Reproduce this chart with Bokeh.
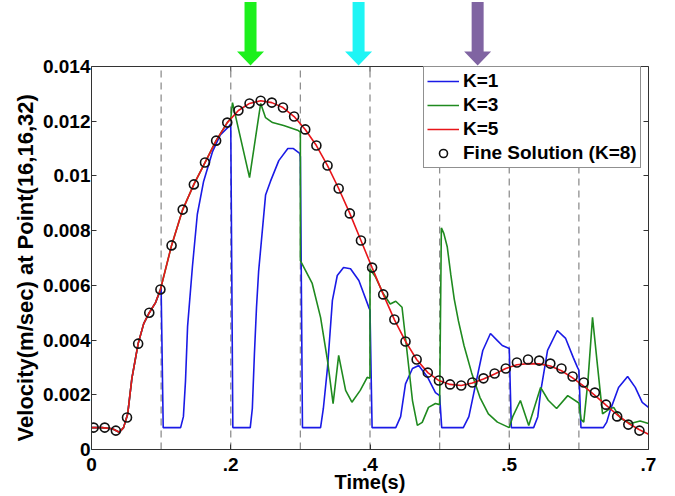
from bokeh.plotting import figure
from bokeh.models import (Range1d, LinearAxis, FixedTicker, Span, Legend, LegendItem,
                          ColumnDataSource)
from bokeh.embed import file_html
from bokeh.resources import INLINE

# ---------------- data ----------------
x_ticks = [0.0, 0.2, 0.4, 0.6, 0.8]
x_tick_labels = ["0", ".2", ".4", ".5", ".7"]
y_ticks = [0.0, 0.002, 0.004, 0.006, 0.008, 0.01, 0.012, 0.014]
y_tick_labels = ["0", "0.002", "0.004", "0.006", "0.008", "0.01", "0.012", "0.014"]
window_edges = [0.1, 0.2, 0.3, 0.4, 0.5, 0.6, 0.7]

fine_x = [0.003, 0.019, 0.035, 0.051, 0.067, 0.083, 0.099, 0.115, 0.131, 0.147,
          0.163, 0.179, 0.195, 0.211, 0.227, 0.243, 0.259, 0.275, 0.291, 0.307,
          0.323, 0.339, 0.355, 0.371, 0.387, 0.403, 0.419, 0.435, 0.451, 0.467,
          0.483, 0.499, 0.515, 0.531, 0.547, 0.563, 0.579, 0.595, 0.611, 0.627,
          0.643, 0.659, 0.675, 0.691, 0.707, 0.723, 0.739, 0.755, 0.771, 0.787]
fine_y = [0.00080, 0.00080, 0.00069, 0.00117, 0.00387, 0.00500, 0.00585, 0.00746, 0.00877, 0.00969,
          0.01049, 0.01129, 0.01195, 0.01239, 0.01265, 0.01275, 0.01268, 0.01250, 0.01217, 0.01170,
          0.01111, 0.01038, 0.00954, 0.00863, 0.00764, 0.00665, 0.00567, 0.00475, 0.00395, 0.00329,
          0.00281, 0.00252, 0.00238, 0.00234, 0.00245, 0.00260, 0.00278, 0.00296, 0.00318, 0.00329,
          0.00325, 0.00314, 0.00296, 0.00267, 0.00245, 0.00208, 0.00164, 0.00121, 0.00091, 0.00069]

k5_x = [0.000, 0.015, 0.030, 0.040, 0.046, 0.052, 0.058, 0.067, 0.075, 0.083, 0.092, 0.099,
        0.115, 0.131, 0.147, 0.163, 0.179, 0.195, 0.211, 0.227, 0.243, 0.259, 0.275, 0.291,
        0.307, 0.323, 0.339, 0.355, 0.371, 0.387, 0.403, 0.419, 0.435, 0.451, 0.467, 0.483,
        0.499, 0.515, 0.531, 0.547, 0.563, 0.579, 0.595, 0.611, 0.627, 0.643, 0.659, 0.675,
        0.691, 0.707, 0.723, 0.739, 0.755, 0.771, 0.787, 0.800]
k5_y = [0.00080, 0.00080, 0.00076, 0.00063, 0.00080, 0.00130, 0.00260, 0.00387, 0.00460, 0.00500, 0.00537, 0.00585,
        0.00746, 0.00877, 0.00969, 0.01049, 0.01129, 0.01195, 0.01239, 0.01265, 0.01275, 0.01268, 0.01250, 0.01217,
        0.01170, 0.01111, 0.01038, 0.00954, 0.00863, 0.00764, 0.00665, 0.00567, 0.00475, 0.00395, 0.00329, 0.00281,
        0.00252, 0.00238, 0.00234, 0.00243, 0.00258, 0.00276, 0.00296, 0.00310, 0.00314, 0.00313, 0.00305, 0.00288,
        0.00262, 0.00232, 0.00198, 0.00162, 0.00127, 0.00096, 0.00072, 0.00056]

k1_x = [0.000, 0.015, 0.030, 0.040, 0.046, 0.052, 0.058, 0.067, 0.075, 0.083, 0.092, 0.100,
        0.100, 0.103, 0.128, 0.132, 0.135, 0.138, 0.145, 0.152, 0.161, 0.174, 0.185, 0.197, 0.200,
        0.200, 0.203, 0.228, 0.231, 0.234, 0.237, 0.240, 0.250, 0.257, 0.269, 0.282, 0.290, 0.299, 0.300,
        0.300, 0.303, 0.329, 0.333, 0.339, 0.346, 0.353, 0.362, 0.372, 0.384, 0.399, 0.400,
        0.400, 0.403, 0.437, 0.444, 0.451, 0.461, 0.470, 0.483, 0.494, 0.500,
        0.500, 0.503, 0.534, 0.542, 0.549, 0.562, 0.573, 0.583, 0.590, 0.600,
        0.600, 0.603, 0.635, 0.641, 0.645, 0.655, 0.669, 0.681, 0.692, 0.698, 0.700,
        0.700, 0.703, 0.735, 0.740, 0.745, 0.757, 0.770, 0.781, 0.791, 0.800]
k1_y = [0.00080, 0.00080, 0.00076, 0.00063, 0.00080, 0.00130, 0.00260, 0.00387, 0.00460, 0.00500, 0.00537, 0.00590,
        0.00590, 0.00080, 0.00080, 0.00120, 0.00250, 0.00450, 0.00670, 0.00860, 0.00980, 0.01090, 0.01150, 0.01180, 0.01190,
        0.01190, 0.00080, 0.00080, 0.00150, 0.00350, 0.00520, 0.00650, 0.00930, 0.00980, 0.01056, 0.01100, 0.01100, 0.01082, 0.01070,
        0.01070, 0.00080, 0.00080, 0.00150, 0.00300, 0.00545, 0.00636, 0.00665, 0.00661, 0.00618, 0.00515, 0.00510,
        0.00510, 0.00080, 0.00080, 0.00120, 0.00240, 0.00296, 0.00307, 0.00263, 0.00208, 0.00197,
        0.00197, 0.00080, 0.00080, 0.00120, 0.00205, 0.00362, 0.00424, 0.00398, 0.00380, 0.00369,
        0.00369, 0.00080, 0.00080, 0.00120, 0.00210, 0.00362, 0.00435, 0.00406, 0.00336, 0.00300, 0.00290,
        0.00290, 0.00080, 0.00080, 0.00100, 0.00143, 0.00227, 0.00267, 0.00227, 0.00172, 0.00154]

k3_x = [0.000, 0.015, 0.030, 0.040, 0.046, 0.052, 0.058, 0.067, 0.075, 0.083, 0.092, 0.099,
        0.115, 0.131, 0.147, 0.163, 0.179, 0.195, 0.200,
        0.2025, 0.227, 0.243, 0.250, 0.260, 0.276, 0.297, 0.300,
        0.300, 0.317, 0.329, 0.339, 0.347, 0.355, 0.365, 0.374, 0.386, 0.396, 0.400,
        0.400, 0.408, 0.419, 0.429, 0.437, 0.446, 0.453, 0.461, 0.468, 0.475, 0.484, 0.494, 0.500,
        0.5025, 0.506, 0.511, 0.516, 0.521, 0.527, 0.535, 0.546, 0.558, 0.570, 0.583, 0.600,
        0.605, 0.616, 0.628, 0.645, 0.656, 0.668, 0.684, 0.700,
        0.703, 0.707, 0.713, 0.7196, 0.727, 0.734, 0.742, 0.750, 0.760, 0.774, 0.788, 0.800]
k3_y = [0.00080, 0.00080, 0.00076, 0.00063, 0.00080, 0.00130, 0.00260, 0.00387, 0.00460, 0.00500, 0.00537, 0.00585,
        0.00746, 0.00877, 0.00969, 0.01049, 0.01129, 0.01195, 0.01210,
        0.01268, 0.00994, 0.01265, 0.01213, 0.01195, 0.01184, 0.01166, 0.01160,
        0.00690, 0.00607, 0.00483, 0.00325, 0.00168, 0.00344, 0.00216, 0.00173, 0.00216, 0.00264, 0.00260,
        0.00660, 0.00630, 0.00570, 0.00532, 0.00542, 0.00520, 0.00362, 0.00179, 0.00088, 0.00099, 0.00154, 0.00168, 0.00164,
        0.00810, 0.00790, 0.00740, 0.00640, 0.00550, 0.00470, 0.00380, 0.00280, 0.00190, 0.00130, 0.00100, 0.00080,
        0.00120, 0.00179, 0.00088, 0.00227, 0.00180, 0.00150, 0.00197, 0.00170,
        0.00110, 0.00100, 0.00250, 0.00483, 0.00300, 0.00130, 0.00145, 0.00154, 0.00113, 0.00095, 0.00104, 0.00095]

arrow_x = [0.2284, 0.3836, 0.5546]
arrow_colors = ["#1cf01c", "#1ef5f5", "#8064a2"]

y_title = "Velocity(m/sec) at Point(16,16,32)"
x_title = "Time(s)"

# ---------------- figure ----------------
FONT = "Liberation Sans"
AX = "#333333"
W, H = 675, 496
BL, BR, BT, BB = 91, 27, 0, 47
X0, X1 = 0.0, 0.8
Y0 = 0.0
Y1 = 0.014 * (H - BT - BB) / 383.0      # 0.014 sits 383 px above the x axis
XPX = (X1 - X0) / (W - BL - BR)
YPX = (Y1 - Y0) / (H - BT - BB)

p = figure(width=W, height=H, output_backend="svg", toolbar_location=None,
           x_range=Range1d(X0, X1), y_range=Range1d(Y0, Y1),
           x_axis_type=None, y_axis_type=None,
           min_border_left=BL, min_border_right=BR, min_border_top=BT, min_border_bottom=BB)
p.outline_line_color = None
p.background_fill_color = "white"
p.border_fill_color = "white"


def style_axis(ax):
    ax.axis_line_color = AX
    ax.axis_line_width = 1
    ax.major_tick_line_color = AX
    ax.major_tick_in = 5
    ax.major_tick_out = 0
    ax.minor_tick_line_color = None
    ax.major_label_text_font = FONT
    ax.major_label_text_font_style = "bold"
    ax.major_label_text_font_size = "19px"
    ax.major_label_text_color = "black"
    ax.axis_label_text_font = FONT
    ax.axis_label_text_font_style = "bold"
    ax.axis_label_text_color = "black"


xaxis = LinearAxis(ticker=FixedTicker(ticks=x_ticks),
                   major_label_overrides=dict(zip(x_ticks, x_tick_labels)),
                   axis_label=x_title)
style_axis(xaxis)
xaxis.axis_label_text_font_size = "20px"
xaxis.major_label_standoff = 8
xaxis.axis_label_standoff = -3
p.add_layout(xaxis, "below")

# The axis title is centred on the whole frame (which also holds the arrows);
# trailing no-break spaces move the visible text down onto the 0..0.014 box.
yaxis = LinearAxis(bounds=(0, 0.014), ticker=FixedTicker(ticks=y_ticks),
                   major_label_overrides=dict(zip(y_ticks, y_tick_labels)),
                   axis_label=y_title + "\u00a0" * 14)
style_axis(yaxis)
yaxis.axis_label_text_font_size = "22px"
yaxis.major_label_standoff = 1
yaxis.axis_label_standoff = 2
p.add_layout(yaxis, "left")

raxis = LinearAxis(bounds=(0, 0.014), ticker=FixedTicker(ticks=y_ticks))
style_axis(raxis)
raxis.major_label_text_font_size = "1px"
raxis.major_label_text_alpha = 0
raxis.major_label_standoff = 0
p.add_layout(raxis, "right")

# top frame line with inward ticks
p.add_layout(Span(location=0.014, dimension="width", line_color=AX, line_width=1))
p.segment(x0=x_ticks, y0=[0.014] * len(x_ticks), x1=x_ticks,
          y1=[0.014 - 5 * YPX] * len(x_ticks), line_color=AX, line_width=1)

# window boundaries
p.segment(x0=window_edges, y0=[0.0] * len(window_edges), x1=window_edges,
          y1=[0.014] * len(window_edges), line_color="#8f8f8f", line_width=1.3, line_dash="7 5")

r1 = p.line(k1_x, k1_y, line_color="#1a1ae6", line_width=1.6)
r3 = p.line(k3_x, k3_y, line_color="#1f8a1f", line_width=1.6)
r5 = p.line(k5_x, k5_y, line_color="#e8151a", line_width=1.6)
rf = p.scatter(fine_x, fine_y, marker="circle", size=9, fill_color=None,
               line_color="#111111", line_width=1.6)

# arrows above the axes box
sw, hw, hh = 6 * XPX, 13.5 * XPX, 14 * YPX
ytip = 0.014 + 1 * YPX
ybase = ytip + hh
ytop = Y1 - 1.5 * YPX
axs, ays = [], []
for xc in arrow_x:
    axs.append([xc - sw, xc + sw, xc + sw, xc + hw, xc, xc - hw, xc - sw])
    ays.append([ytop, ytop, ybase, ybase, ytip, ybase, ybase])
p.patches(xs="xs", ys="ys", fill_color="c", line_color=None,
          source=ColumnDataSource(dict(xs=axs, ys=ays, c=arrow_colors)))

legend = Legend(items=[LegendItem(label="K=1", renderers=[r1]),
                       LegendItem(label="K=3", renderers=[r3]),
                       LegendItem(label="K=5", renderers=[r5]),
                       LegendItem(label="Fine Solution (K=8)", renderers=[rf])],
                location=(332, 281))
legend.label_text_font = FONT
legend.label_text_font_style = "bold"
legend.label_text_font_size = "19px"
legend.label_text_color = "black"
legend.glyph_width = 32
legend.glyph_height = 20
legend.label_height = 20
legend.label_standoff = 4
legend.padding = 3
legend.spacing = 2
legend.margin = 0
legend.border_line_color = "#222222"
legend.border_line_width = 1
legend.background_fill_alpha = 1
p.add_layout(legend, "center")

open("out.html", "w").write(file_html(p, INLINE))
